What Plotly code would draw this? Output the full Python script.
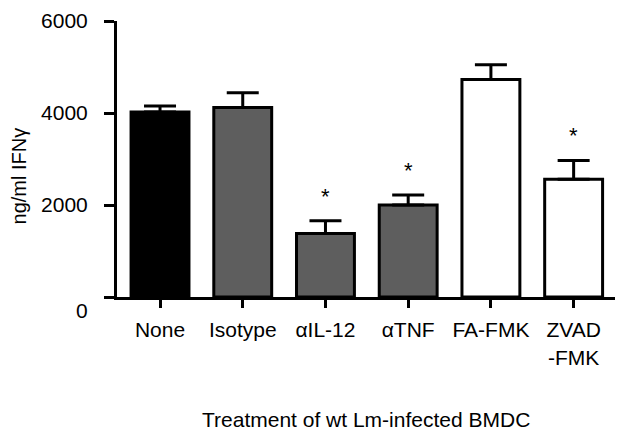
import plotly.graph_objects as go

# Data
categories = ["None", "Isotype", "αIL-12", "αTNF", "FA-FMK", "ZVAD<br>-FMK"]
means = [4020, 4120, 1380, 2000, 4730, 2560]
errors = [130, 320, 280, 215, 320, 410]
fills = ["#000000", "#5e5e5e", "#5e5e5e", "#5e5e5e", "#ffffff", "#ffffff"]
significant = [False, False, True, True, False, True]
y_ticks = [0, 2000, 4000, 6000]
y_tick_text = ["<br>0", "2000", "4000", "6000"]

font = "Liberation Sans, Arial, Helvetica, sans-serif"

fig = go.Figure()
fig.add_trace(
    go.Bar(
        x=list(range(len(categories))),
        y=means,
        width=0.7,
        marker=dict(color=fills, line=dict(color="black", width=3)),
        error_y=dict(
            type="data",
            array=errors,
            arrayminus=[0] * len(errors),
            color="black",
            thickness=3,
            width=16,
        ),
    )
)

# Significance stars above the error bars
for i, sig in enumerate(significant):
    if sig:
        fig.add_annotation(
            x=i, y=means[i] + errors[i], text="*", showarrow=False,
            yanchor="bottom", yshift=10, font=dict(size=22, color="black", family=font),
        )

# Axis titles
fig.add_annotation(
    xref="paper", yref="paper", x=-0.197, y=0.44, text="ng/ml IFNγ",
    textangle=-90, showarrow=False, xanchor="center", yanchor="middle",
    font=dict(size=20, color="black", family=font),
)
fig.add_annotation(
    xref="paper", yref="paper", x=0.5, y=-0.444,
    text="Treatment of wt Lm-infected BMDC", showarrow=False,
    yanchor="middle", font=dict(size=21, color="black", family=font),
)

fig.update_layout(
    width=624, height=436,
    margin=dict(l=117, r=9, t=18, b=139),
    plot_bgcolor="white", paper_bgcolor="white",
    showlegend=False,
    font=dict(family=font, size=21, color="black"),
)
fig.update_xaxes(
    range=[-0.52, 5.5],
    tickvals=list(range(len(categories))), ticktext=categories,
    showline=True, linecolor="black", linewidth=3,
    ticks="outside", ticklen=8, tickwidth=3, tickcolor="black",
    ticklabelstandoff=4,
    showgrid=False, zeroline=False,
)
fig.update_yaxes(
    range=[0, 6000],
    tickvals=y_ticks, ticktext=y_tick_text,
    showline=True, linecolor="black", linewidth=3,
    ticks="outside", ticklen=10, tickwidth=3, tickcolor="black",
    ticklabelstandoff=12,
    showgrid=False, zeroline=False,
)

# page margin off so the figure sits at the window's corner
fig.write_html(
    "out.html",
    config={"displayModeBar": False},
    post_script="document.body.style.margin='0';",
)
